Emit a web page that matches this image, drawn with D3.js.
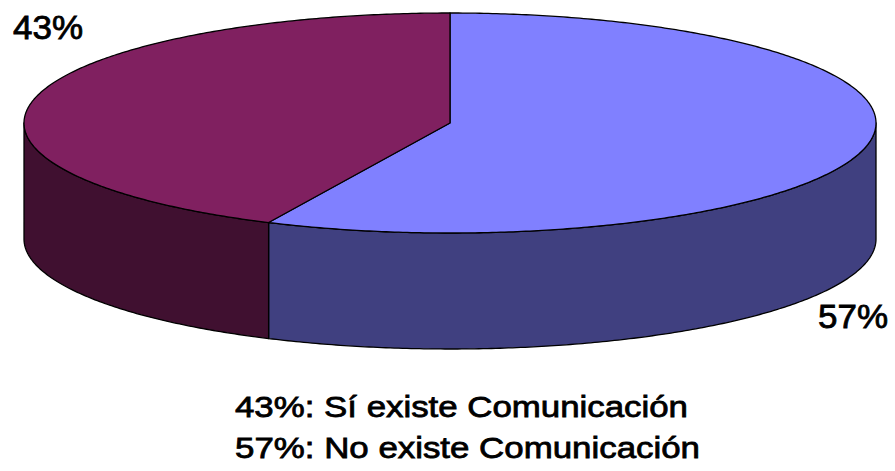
<!DOCTYPE html>
<html>
<head>
<meta charset="utf-8">
<script src="https://cdn.jsdelivr.net/npm/d3@7"></script>
<style>
  body { margin: 0; background: #fff; }
  text { font-family: "Liberation Sans", Arial, sans-serif; fill: #000; stroke: #000; stroke-width: 0.8px; }
</style>
</head>
<body>
<svg id="chart" width="895" height="471"></svg>
<script>
// data
const categories = ['No existe Comunicación', 'Sí existe Comunicación'];
const values = [57, 43];
const topColors = ['#8080ff', '#802060'];
const sideColors = ['#404080', '#401030'];
const legendLines = ['43%: Sí existe Comunicación', '57%: No existe Comunicación'];

const svg = d3.select('#chart');
const cx = 450, cy = 123, rx = 426, ry = 110, depth = 116;

// angle measured clockwise from 12 o'clock, like d3.pie
const px = a => cx + rx * Math.sin(a);
const py = a => cy - ry * Math.cos(a);

const arcs = d3.pie().sort(null)(values);
const line = d3.line();

function arcPoints(a0, a1, dy) {
    const n = Math.max(2, Math.ceil(Math.abs(a1 - a0) / 0.01));
    return d3.range(n + 1).map(i => {
        const a = a0 + (a1 - a0) * i / n;
        return [px(a), py(a) + dy];
    });
}

// outer walls, only the front half (PI/2 .. 3PI/2) is visible
const walls = svg.append('g');
arcs.forEach((d, i) => {
    const a0 = Math.max(d.startAngle, Math.PI / 2);
    const a1 = Math.min(d.endAngle, Math.PI * 1.5);
    if (a1 <= a0) return;
    const pts = arcPoints(a0, a1, 0).concat(arcPoints(a1, a0, depth));
    walls.append('path')
        .attr('d', line(pts) + 'Z')
        .attr('fill', sideColors[i])
        .attr('stroke', '#000')
        .attr('stroke-width', 1.3)
        .attr('stroke-linejoin', 'round');
});

// top faces
const tops = svg.append('g');
arcs.forEach((d, i) => {
    const pts = [[cx, cy]].concat(arcPoints(d.startAngle, d.endAngle, 0));
    tops.append('path')
        .attr('d', line(pts) + 'Z')
        .attr('fill', topColors[i])
        .attr('stroke', '#000')
        .attr('stroke-width', 1.3)
        .attr('stroke-linejoin', 'round');
});

// data labels
const labelPos = [[818, 328], [13, 39]];
svg.append('g').selectAll('text')
    .data(arcs)
    .join('text')
    .attr('x', (d, i) => labelPos[i][0])
    .attr('y', (d, i) => labelPos[i][1])
    .attr('font-size', 33)
    .attr('textLength', 70)
    .attr('lengthAdjust', 'spacingAndGlyphs')
    .text(d => d.data + '%');

// legend text
const legendWidths = [453, 465];
svg.append('g').selectAll('text')
    .data(legendLines)
    .join('text')
    .attr('x', 235)
    .attr('y', (d, i) => 417 + i * 41)
    .attr('font-size', 30)
    .attr('textLength', (d, i) => legendWidths[i])
    .attr('lengthAdjust', 'spacingAndGlyphs')
    .text(d => d);
</script>
</body>
</html>
